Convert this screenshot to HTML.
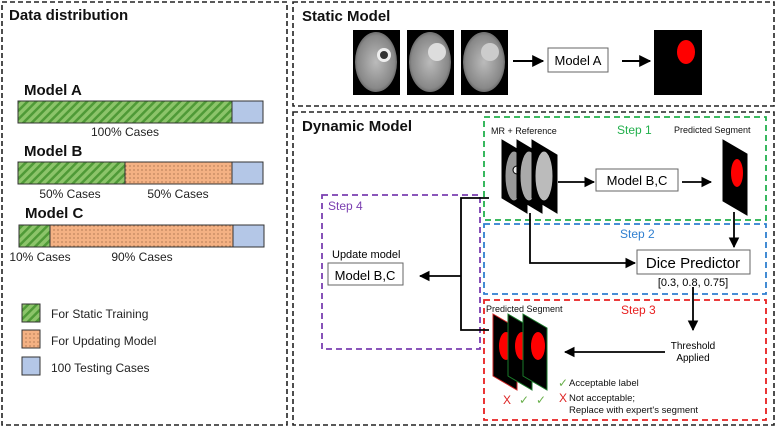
<!DOCTYPE html>
<html><head><meta charset="utf-8"><style>
html,body{margin:0;padding:0;background:#fff}
svg{display:block;font-family:"Liberation Sans",Arial,sans-serif}
</style></head><body>
<svg width="777" height="428" viewBox="0 0 777 428" xmlns="http://www.w3.org/2000/svg">
<defs>
<pattern id="hatch" width="6" height="6" patternUnits="userSpaceOnUse" patternTransform="rotate(45)">
<rect width="6" height="6" fill="#8cc46a"/><rect width="2.5" height="6" fill="#4f9a37"/></pattern>
<pattern id="dots" width="4" height="4" patternUnits="userSpaceOnUse">
<rect width="4" height="4" fill="#f4b183"/><circle cx="2" cy="2" r="0.6" fill="#8a5a3a"/></pattern>
<marker id="ar" viewBox="0 0 10 10" refX="9" refY="5" markerWidth="6" markerHeight="6" orient="auto"><path d="M0,0L10,5L0,10z" fill="#000"/></marker>
<radialGradient id="brain" cx="50%" cy="50%" r="55%"><stop offset="0" stop-color="#bbb"/><stop offset="0.8" stop-color="#888"/><stop offset="1" stop-color="#555"/></radialGradient>
</defs>
<g fill="none" stroke="#222" stroke-width="1.6" stroke-dasharray="5,3">
<rect x="2" y="2" width="285" height="423"/>
<rect x="293" y="2" width="481" height="104"/>
<rect x="293" y="112" width="481" height="313"/>
</g>
<g font-weight="bold" font-size="15" fill="#111">
<text x="9" y="20">Data distribution</text>
<text x="302" y="21">Static Model</text>
<text x="302" y="131">Dynamic Model</text>
</g>
<g font-weight="bold" font-size="15" fill="#111">
<text x="24" y="95">Model A</text><text x="24" y="156">Model B</text><text x="25" y="218">Model C</text>
</g>
<g stroke="#333" stroke-width="1">
<rect x="18" y="101" width="214" height="22" fill="url(#hatch)"/><rect x="232" y="101" width="31" height="22" fill="#b4c7e7"/>
<rect x="18" y="162" width="107" height="22" fill="url(#hatch)"/><rect x="125" y="162" width="107" height="22" fill="url(#dots)"/><rect x="232" y="162" width="31" height="22" fill="#b4c7e7"/>
<rect x="19" y="225" width="31" height="22" fill="url(#hatch)"/><rect x="50" y="225" width="183" height="22" fill="url(#dots)"/><rect x="233" y="225" width="31" height="22" fill="#b4c7e7"/>
<rect x="22" y="304" width="18" height="18" fill="url(#hatch)"/>
<rect x="22" y="330" width="18" height="18" fill="url(#dots)"/>
<rect x="22" y="357" width="18" height="18" fill="#b4c7e7"/>
</g>
<g font-size="12" fill="#222">
<text x="125" y="136" text-anchor="middle">100% Cases</text>
<text x="70" y="198" text-anchor="middle">50% Cases</text><text x="178" y="198" text-anchor="middle">50% Cases</text>
<text x="40" y="261" text-anchor="middle">10% Cases</text><text x="142" y="261" text-anchor="middle">90% Cases</text>
<text x="51" y="318">For Static Training</text>
<text x="51" y="345">For Updating Model</text>
<text x="51" y="372">100 Testing Cases</text>
</g>
<g>
<rect x="353" y="30" width="47" height="65" fill="#000"/><ellipse cx="376" cy="62" rx="21" ry="30" fill="url(#brain)"/><circle cx="384" cy="55" r="7" fill="#eee"/><circle cx="384" cy="55" r="4" fill="#333"/>
<rect x="407" y="30" width="47" height="65" fill="#000"/><ellipse cx="430" cy="62" rx="21" ry="30" fill="url(#brain)"/><circle cx="437" cy="52" r="9" fill="#ddd"/>
<rect x="461" y="30" width="47" height="65" fill="#000"/><ellipse cx="484" cy="62" rx="21" ry="30" fill="url(#brain)"/><circle cx="490" cy="52" r="9" fill="#ccc"/>
<rect x="654" y="30" width="48" height="65" fill="#000"/><ellipse cx="686" cy="52" rx="9" ry="12" fill="#f00"/>
</g>
<g stroke="#000" stroke-width="2" marker-end="url(#ar)">
<line x1="513" y1="61" x2="543" y2="61"/><line x1="622" y1="61" x2="650" y2="61"/>
</g>
<rect x="548" y="48" width="60" height="24" fill="#fff" stroke="#666"/>
<text x="578" y="65" font-size="13" text-anchor="middle">Model A</text>
<g fill="none" stroke-width="1.8" stroke-dasharray="6,4">
<rect x="484" y="117" width="282" height="103" stroke="#22b04c"/>
<rect x="484" y="224" width="282" height="70" stroke="#2f7fd0"/>
<rect x="484" y="300" width="282" height="120" stroke="#e82020"/>
<rect x="322" y="195" width="158" height="154" stroke="#7a3fb0"/>
</g>
<g font-size="12"><text x="617" y="134" fill="#22b04c">Step 1</text><text x="620" y="238" fill="#2f7fd0">Step 2</text><text x="621" y="314" fill="#e82020">Step 3</text><text x="328" y="210" fill="#7a3fb0">Step 4</text></g>
<g font-size="9" fill="#111"><text x="491" y="134">MR + Reference</text><text x="674" y="133">Predicted Segment</text><text x="486" y="312">Predicted Segment</text></g>
<g stroke="#000">
<polygon points="502,140 527,155 527,213 502,198" fill="#000"/><ellipse cx="514" cy="176" rx="9" ry="25" fill="#999"/><circle cx="517" cy="170" r="4" fill="#eee"/>
<polygon points="517,140 542,155 542,213 517,198" fill="#000"/><ellipse cx="529" cy="176" rx="9" ry="25" fill="#aaa"/>
<polygon points="532,140 557,155 557,213 532,198" fill="#000"/><ellipse cx="544" cy="176" rx="9" ry="25" fill="#bbb"/>
<polygon points="723,140 747,154 747,215 723,201" fill="#000"/><ellipse cx="737" cy="173" rx="6" ry="14" fill="#f00" stroke="none"/>
</g>
<g stroke="#000" stroke-width="1.8" fill="none">
<line x1="558" y1="182" x2="594" y2="182" marker-end="url(#ar)"/>
<line x1="682" y1="182" x2="711" y2="182" marker-end="url(#ar)"/>
<line x1="734" y1="212" x2="734" y2="247" marker-end="url(#ar)"/>
<polyline points="530,213 530,263 635,263" marker-end="url(#ar)"/>
<line x1="693" y1="287" x2="693" y2="330" marker-end="url(#ar)"/>
<line x1="665" y1="352" x2="565" y2="352" marker-end="url(#ar)"/>
<polyline points="489,198 461,198 461,330 489,330"/>
<line x1="461" y1="276" x2="420" y2="276" marker-end="url(#ar)"/>
</g>
<rect x="596" y="169" width="82" height="22" fill="#fff" stroke="#666"/>
<text x="637" y="185" font-size="13" text-anchor="middle">Model B,C</text>
<rect x="637" y="250" width="113" height="24" fill="#fff" stroke="#666"/>
<text x="693" y="268" font-size="15" text-anchor="middle">Dice Predictor</text>
<text x="693" y="286" font-size="11" text-anchor="middle">[0.3, 0.8, 0.75]</text>
<text x="693" y="349" font-size="10" text-anchor="middle">Threshold</text>
<text x="693" y="361" font-size="10" text-anchor="middle">Applied</text>
<rect x="328" y="263" width="75" height="22" fill="#fff" stroke="#666"/>
<text x="365" y="280" font-size="13" text-anchor="middle">Model B,C</text>
<text x="332" y="258" font-size="11">Update model</text>
<polygon points="493,314 517,328 517,390 493,376" fill="#000" stroke="#c22"/><ellipse cx="506" cy="346" rx="7" ry="14" fill="#f00"/>
<polygon points="508,314 532,328 532,390 508,376" fill="#000" stroke="#1a7a2a"/><ellipse cx="522" cy="346" rx="7" ry="14" fill="#f00"/>
<polygon points="523,314 547,328 547,390 523,376" fill="#000" stroke="#1a7a2a"/><ellipse cx="538" cy="346" rx="7" ry="14" fill="#f00"/>
<g font-size="12"><text x="503" y="404" fill="#d22">X</text><text x="519" y="404" fill="#6ab04c">✓</text><text x="536" y="404" fill="#6ab04c">✓</text>
<text x="558" y="387" fill="#6ab04c">✓</text><text x="559" y="402" fill="#d22">X</text></g>
<g font-size="9.5" fill="#111"><text x="569" y="386">Acceptable label</text><text x="569" y="401">Not acceptable;</text><text x="569" y="413">Replace with expert's segment</text></g>
</svg>
</body></html>
